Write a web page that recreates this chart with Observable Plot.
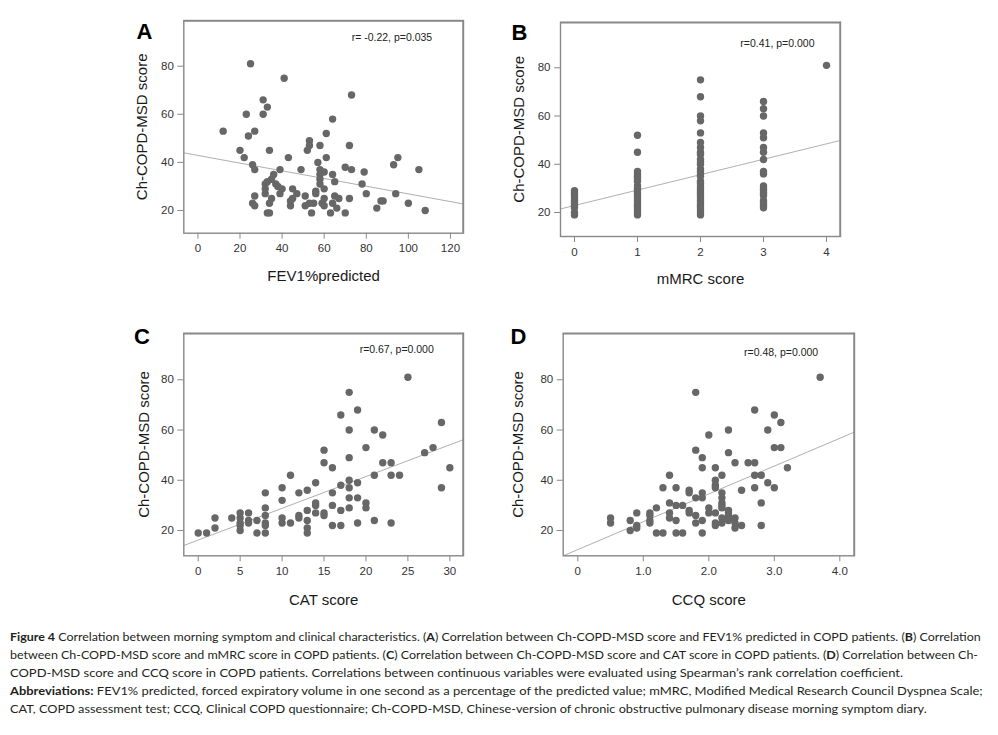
<!DOCTYPE html>
<html><head><meta charset="utf-8">
<script src="https://cdn.jsdelivr.net/npm/d3@7"></script>
<script src="https://cdn.jsdelivr.net/npm/@observablehq/plot@0.6"></script>
<style>
body{margin:0;background:#fff;}
#root{position:relative;width:998px;height:735px;background:#fff;font-family:"Liberation Sans",Arial,sans-serif;}
.panel{position:absolute;}
.panel svg{overflow:visible;}
#caption{position:absolute;left:10px;top:628px;font-family:Lato,"Liberation Sans",sans-serif;font-size:11.5px;line-height:18px;color:#231f20;}
.ln{white-space:nowrap;display:block;height:18px;}
.ln .in{display:inline-block;transform-origin:0 0;}
</style></head><body><div id="root"></div>
<script>
// ---------- data ----------
const yTicks = [20, 40, 60, 80];

// Panel A: FEV1%predicted vs Ch-COPD-MSD score
const fevA = [25,41,31,33,23,31,73,12,27,24,64,61,53,53,52,58,72,20,34,22,43,61,95,93,105,26,27,39,49,57,58,70,73,79,58,64,36,58,35,32,37,78,58,38,40,65,32,45,60,32,39,47,56,56,80,94,27,51,65,60,35,45,72,67,87,88,44,34,26,53,55,59,64,100,27,44,51,60,85,66,33,34,54,63,70,108,60,33];
const msdA = [81,75,66,63,60,60,68,53,53,51,58,52,49,47,45,47,47,45,45,42,42,42,42,39,37,39,37,37,37,40,37,38,37,36,35,35,35,33,33,31,31,31,31,30,29,32,29,29,29,27,27,27,28,27,27,27,26,26,26,25,25,25,25,25,24,24,24,23,23,23,23,23,23,23,22,22,22,22,21,21,19,19,19,19,19,20,36,32];
const xTicksA = [0, 20, 40, 60, 80, 100, 120];
const fitA = [42.9, -0.160];   // intercept, slope
const statA = "r= -0.22, p=0.035";

// Panel B: mMRC score vs Ch-COPD-MSD score
const mmrcB = [0,0,0,0,0,0,0,0,0,0,
  1,1,1,1,1,1,1,1,1,1,1,1,1,1,1,1,1,1,1,1,
  2,2,2,2,2,2,2,2,2,2,2,2,2,2,2,2,2,2,2,2,2,2,2,2,2,2,2,2,2,2,2,
  3,3,3,3,3,3,3,3,3,3,3,3,3,3,3,3,3,3,3,
  4];
const msdB = [19,20,22,23,24,25,26,27,28,29,
  19,20,21,22,23,24,25,26,27,28,29,30,31,33,34,35,36,37,45,52,
  19,20,21,22,23,24,25,26,27,28,29,30,31,32,33,35,36,37,38,40,41,42,44,45,47,49,53,58,60,68,75,
  22,23,24,25,27,28,29,30,31,36,37,42,45,47,51,53,60,63,66,
  81];
const xTicksB = [0, 1, 2, 3, 4];
const fitB = [22.9, 6.39];
const statB = "r=0.41, p=0.000";

// Panel C: CAT score vs Ch-COPD-MSD score
const catC = [25,18,17,19,18,21,22,29,15,20,27,28,18,15,16,22,23,30,11,21,23,24,18,14,19,17,18,10,29,8,12,13,16,10,18,19,14,14,16,20,20,8,18,13,17,14,15,15,8,12,12,10,5,6,5,4,2,5,5,6,6,7,8,8,10,11,13,13,13,2,0,1,7,8,16,17,19,21,23,5];
const msdC = [81,75,66,68,60,60,58,63,52,53,51,53,49,47,45,47,47,45,42,42,42,42,40,39,39,38,37,37,37,35,35,36,35,32,33,33,31,30,30,31,29,29,29,28,28,27,27,26,26,26,25,25,27,27,25,25,25,22,20,24,23,24,23,22,23,23,24,21,19,21,19,19,19,19,22,22,23,24,23,23];
const xTicksC = [0, 5, 10, 15, 20, 25, 30];
const fitC = [16.2, 1.264];
const statC = "r=0.67, p=0.000";

// Panel D: CCQ score vs Ch-COPD-MSD score
const ccqD = [3.7,1.8,2.7,3.0,3.1,2.3,2.9,2.0,3.0,3.1,1.8,2.3,1.9,1.9,2.1,2.4,2.6,2.7,3.2,1.4,2.2,2.7,2.8,2.1,2.1,2.9,1.3,1.5,2.1,2.7,3.0,1.7,2.5,1.7,1.9,2.2,1.8,1.9,2.2,1.4,2.2,2.8,1.5,1.6,2.2,1.2,2.0,2.2,1.7,2.3,1.7,2.0,2.1,2.3,1.4,1.1,0.9,1.8,2.3,1.1,0.5,1.4,2.2,2.4,2.3,1.1,0.8,1.5,1.9,2.3,0.5,1.1,1.8,2.1,2.2,2.4,0.9,2.1,2.5,2.8,0.9,2.4,0.8,1.2,1.3,1.5,1.6,1.9];
const msdD = [81,75,68,66,63,60,60,58,53,53,52,51,49,45,45,47,47,47,45,42,42,42,42,40,38,39,37,37,37,37,37,36,36,35,35,35,33,33,33,31,31,31,30,30,30,29,29,29,28,28,27,27,27,27,27,27,27,26,26,26,25,25,25,25,25,24,24,24,24,24,23,23,23,23,23,23,22,22,22,22,21,21,20,19,19,19,19,19];
const xTicksD = [0, 1, 2, 3, 4];
const fitD = [12.4, 11.08];
const statD = "r=0.48, p=0.000";

const yLabel = "Ch-COPD-MSD score";

// ---------- layout ----------
const panels = [
  {id:"A", xs:fevA, ys:msdA, xTicks:xTicksA, fmt:d=>String(d), fit:fitA, stat:statA, xlabel:"FEV1%predicted",
   left:125, top:10, w:350, h:290, mL:58.3, mR:12, mT:10, mB:67.3, xd:[-6.7,126.2], yd:[10.56,99],
   letter:[-47.3,11.3], statPos:[-31.3,16.7], ylabDx:-41.6, xlabDy:43.3},
  {id:"B", xs:mmrcB, ys:msdB, xTicks:xTicksB, fmt:d=>String(d), fit:fitB, stat:statB, xlabel:"mMRC score",
   left:500, top:10, w:350, h:290, mL:60, mR:10, mT:11.7, mB:64, xd:[-0.222,4.222], yd:[10.05,98.9],
   letter:[-49,10.8], statPos:[-26,21.6], ylabDx:-41.5, xlabDy:43},
  {id:"C", xs:catC, ys:msdC, xTicks:xTicksC, fmt:d=>String(d), fit:fitC, stat:statC, xlabel:"CAT score",
   left:125, top:320, w:350, h:300, mL:58.3, mR:12, mT:12.7, mB:64.7, xd:[-1.72,31.63], yd:[9.93,98.55],
   letter:[-49.8,3.8], statPos:[-29.7,16.6], ylabDx:-39.8, xlabDy:44.7},
  {id:"D", xs:ccqD, ys:msdD, xTicks:xTicksD, fmt:d=>d===0?"0":d.toFixed(1), fit:fitD, stat:statD, xlabel:"CCQ score",
   left:500, top:320, w:360, h:300, mL:62.7, mR:6, mT:12.7, mB:64.7, xd:[-0.223,4.224], yd:[9.93,98.55],
   letter:[-52.7,3.3], statPos:[-36.3,19.6], ylabDx:-44.7, xlabDy:44.7}
];

const root = document.getElementById("root");
for (const p of panels) {
  const pts = p.xs.map((x, i) => ({x, y: p.ys[i]}));
  const fitLine = p.xd.map(x => ({x, y: p.fit[0] + p.fit[1] * x}));
  const chart = Plot.plot({
    width: p.w, height: p.h,
    marginLeft: p.mL, marginRight: p.mR, marginTop: p.mT, marginBottom: p.mB,
    x: {domain: p.xd}, y: {domain: p.yd},
    style: {fontFamily: "'Liberation Sans', Arial, sans-serif", fontSize: "11.5px", background: "transparent", overflow: "visible", maxWidth: "none"},
    marks: [
      Plot.axisX({ticks: p.xTicks, tickFormat: p.fmt, tickSize: 6, tickPadding: 5, stroke: "#8a8a8a", fill: "#333", fontSize: 11.5, label: null}),
      Plot.axisY({ticks: yTicks, tickSize: 6, tickPadding: 4, stroke: "#8a8a8a", fill: "#333", fontSize: 11.5, label: null}),
      Plot.line(fitLine, {x: "x", y: "y", stroke: "#a6a6a6", strokeWidth: 0.9, clip: true}),
      Plot.dot(pts, {x: "x", y: "y", r: 3.7, fill: "#676767", stroke: "none", clip: true}),
      Plot.frame({stroke: "#888", strokeWidth: 1.4}),
      Plot.ruleX([p.xd[1]], {stroke: "#888", strokeWidth: 1.4, dx: -0.5}),
      Plot.ruleY([p.yd[1]], {stroke: "#888", strokeWidth: 1.4, dy: 0.5}),
      Plot.text([p.stat], {text: d => d, frameAnchor: "top-right", textAnchor: "end", lineAnchor: "middle", dx: p.statPos[0], dy: p.statPos[1], fontSize: 10.5, fill: "#222"}),
      Plot.text([p.id], {text: d => d, frameAnchor: "top-left", textAnchor: "start", lineAnchor: "middle", dx: p.letter[0], dy: p.letter[1], fontSize: 22, fontWeight: "bold", fill: "#000"}),
      Plot.text([yLabel], {text: d => d, frameAnchor: "left", textAnchor: "middle", lineAnchor: "middle", rotate: -90, dx: p.ylabDx, fontSize: 15, fill: "#1a1a1a"}),
      Plot.text([p.xlabel], {text: d => d, frameAnchor: "bottom", textAnchor: "middle", lineAnchor: "middle", dy: p.xlabDy, fontSize: 15, fill: "#1a1a1a"})
    ]
  });
  const div = document.createElement("div");
  div.className = "panel";
  div.style.left = p.left + "px";
  div.style.top = p.top + "px";
  div.style.width = p.w + "px";
  div.style.height = p.h + "px";
  div.appendChild(chart);
  root.appendChild(div);
}

// ---------- caption ----------
const captionLines = [
  '<b>Figure 4</b> Correlation between morning symptom and clinical characteristics. (<b>A</b>) Correlation between Ch-COPD-MSD score and FEV1% predicted in COPD patients. (<b>B</b>) Correlation',
  'between Ch-COPD-MSD score and mMRC score in COPD patients. (<b>C</b>) Correlation between Ch-COPD-MSD score and CAT score in COPD patients. (<b>D</b>) Correlation between Ch-',
  'COPD-MSD score and CCQ score in COPD patients. Correlations between continuous variables were evaluated using Spearman\u2019s rank correlation coefficient.',
  '<b>Abbreviations:</b> FEV1% predicted, forced expiratory volume in one second as a percentage of the predicted value; mMRC, Modified Medical Research Council Dyspnea Scale;',
  'CAT, COPD assessment test; CCQ, Clinical COPD questionnaire; Ch-COPD-MSD, Chinese-version of chronic obstructive pulmonary disease morning symptom diary.'
];
const captionWidths = [970.7, 968, 893, 972.7, 916.7];
const cap = document.createElement("div");
cap.id = "caption";
root.appendChild(cap);
captionLines.forEach((html, i) => {
  const ln = document.createElement("div");
  ln.className = "ln";
  const sp = document.createElement("span");
  sp.className = "in";
  sp.innerHTML = html;
  ln.appendChild(sp);
  cap.appendChild(ln);
  const w = sp.getBoundingClientRect().width;
  if (w > 0) sp.style.transform = `scaleX(${captionWidths[i] / w})`;
});
</script>
</body></html>
